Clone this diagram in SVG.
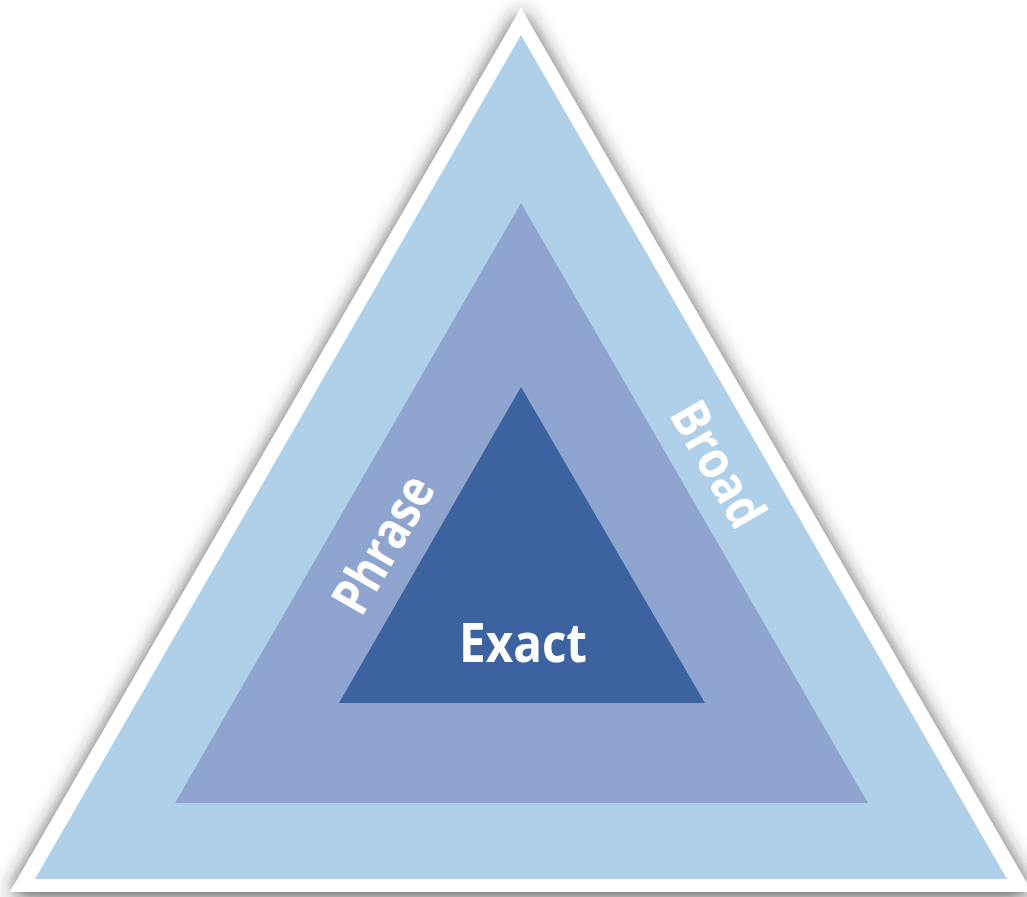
<svg xmlns="http://www.w3.org/2000/svg" width="1027" height="897" viewBox="0 0 1027 897">
  <defs>
    <filter id="shadow" x="-10%" y="-10%" width="120%" height="120%">
      <feDropShadow dx="0" dy="3" stdDeviation="10" flood-color="#2a2a2a" flood-opacity="0.9"/>
    </filter>
  </defs>
  <style>
    .lbl { font-family: "Open Sans", "Liberation Sans", sans-serif; font-weight: bold; fill: #ffffff; }
  </style>
  <rect x="0" y="0" width="1027" height="897" fill="#ffffff"/>
  <g id="outer">
    <polygon points="521,8 1032,892 10,892" fill="#ffffff" filter="url(#shadow)"/>
    <polygon points="521,35 1007,879 35,879" fill="#afd0e8"/>
  </g>
  <g id="middle">
    <polygon points="521,203 868,803 175,803" fill="#8fa5cf"/>
  </g>
  <g id="inner">
    <polygon points="521,387 705,703 339,703" fill="#3d62a0"/>
  </g>
  <g id="labels">
    <text class="lbl" x="523" y="662" font-size="54" text-anchor="middle" textLength="128" lengthAdjust="spacingAndGlyphs">Exact</text>
    <text class="lbl" transform="translate(381,543) rotate(-60)" x="0" y="0" font-size="52" text-anchor="middle" dominant-baseline="central" textLength="150" lengthAdjust="spacingAndGlyphs">Phrase</text>
    <text class="lbl" transform="translate(720,463) rotate(60)" x="0" y="0" font-size="52" text-anchor="middle" dominant-baseline="central" textLength="136" lengthAdjust="spacingAndGlyphs">Broad</text>
  </g>
</svg>
